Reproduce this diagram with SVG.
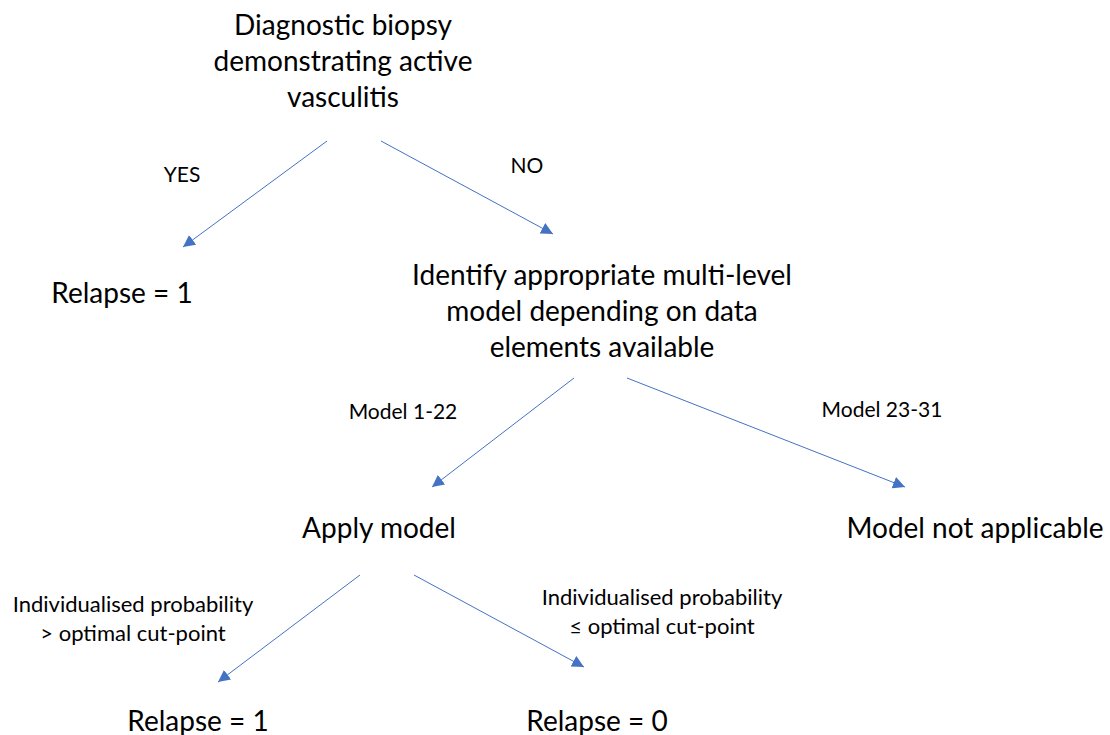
<svg xmlns="http://www.w3.org/2000/svg" width="1110" height="735" viewBox="0 0 1110 735">
<style>
.big{font-family:Lato,"Liberation Sans",sans-serif;font-size:28px;fill:#000;text-anchor:middle}
.sm{font-family:Lato,"Liberation Sans",sans-serif;font-size:21px;fill:#000;text-anchor:middle}
.pr{font-size:22px}
.c{stroke:#4472C4;stroke-width:1;fill:none;marker-end:url(#ah)}
</style>
<defs>
<marker id="ah" markerUnits="userSpaceOnUse" markerWidth="14" markerHeight="12" refX="12" refY="6" orient="auto">
<path d="M0,0 L12,6 L0,12 Z" fill="#4472C4"/>
</marker>
</defs>
<rect width="1110" height="735" fill="#fff"/>
<g id="connectors">
<line class="c" x1="327" y1="141" x2="183" y2="247"/>
<line class="c" x1="381" y1="141" x2="553" y2="234"/>
<line class="c" x1="574" y1="378" x2="432" y2="487"/>
<line class="c" x1="627" y1="378" x2="905" y2="487"/>
<line class="c" x1="360" y1="575" x2="218" y2="682"/>
<line class="c" x1="414" y1="575" x2="584" y2="667"/>
</g>
<g id="labels">
<text class="sm" x="182" y="182">YES</text>
<text class="sm" x="527" y="173">NO</text>
<text class="sm" x="403" y="419">Model 1-22</text>
<text class="sm" x="882" y="417">Model 23-31</text>
<text class="sm pr" x="133" y="612">Individualised probability</text>
<text class="sm pr" x="133" y="641">&gt; optimal cut-point</text>
<text class="sm pr" x="662" y="605">Individualised probability</text>
<text class="sm pr" x="662" y="634">≤ optimal cut-point</text>
</g>
<g id="n-biopsy">
<text class="big" x="343" y="35">Diagnostic biopsy</text>
<text class="big" x="343" y="71">demonstrating active</text>
<text class="big" x="343" y="107">vasculitis</text>
</g>
<g id="n-relapse1a"><text class="big" x="122" y="303">Relapse = 1</text></g>
<g id="n-identify">
<text class="big" x="602" y="285">Identify appropriate multi-level</text>
<text class="big" x="602" y="321">model depending on data</text>
<text class="big" x="602" y="357">elements available</text>
</g>
<g id="n-apply"><text class="big" x="379" y="538">Apply model</text></g>
<g id="n-notapplicable"><text class="big" x="975" y="538">Model not applicable</text></g>
<g id="n-relapse1b"><text class="big" x="198" y="731">Relapse = 1</text></g>
<g id="n-relapse0"><text class="big" x="597" y="731">Relapse = 0</text></g>
</svg>
